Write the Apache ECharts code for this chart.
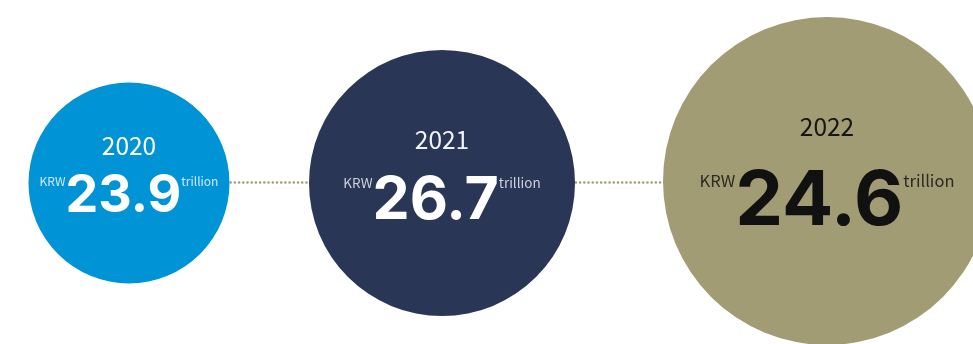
<!DOCTYPE html>
<html>
<head>
<meta charset="utf-8">
<title>Revenue 2020–2022</title>
<script src="https://cdn.jsdelivr.net/npm/echarts@6/dist/echarts.min.js"></script>
<style>
  html, body { margin: 0; padding: 0; background: #ffffff; }
  #chart { width: 973px; height: 344px; }
</style>
</head>
<body>
<div id="chart"></div>
<script>
// Annual figures, KRW trillion
const years = ['2020', '2021', '2022'];
const values = [23.9, 26.7, 24.6];
const unitPrefix = 'KRW';
const unitSuffix = 'trillion';

// Look of each bubble (colour, diameter, type sizes)
const bubbleLook = [
  { fill: '#0093d6', diameter: 201, shift: [12, 1], big: 52, unit: 12, unitDrop: 5, year: 24.5, yearLine: 49, lift: -11,
    main: '#ffffff', sub: '#d3e9f6', yearColor: '#ffffff' },
  { fill: '#2a3656', diameter: 266, shift: [-24, 1], big: 59, unit: 13.5, unitDrop: 5, year: 24.5, yearLine: 64, lift: -14,
    main: '#ffffff', sub: '#cdd1dc', yearColor: '#f2f3f6' },
  { fill: '#a29c74', diameter: 328, shift: [12, -1], big: 76, unit: 16.5, unitDrop: 8, year: 24.5, yearLine: 74, lift: -16,
    main: '#111111', sub: '#2b2a24', yearColor: '#141414' }
];

const SANS = '"Noto Sans CJK KR", "Noto Sans", sans-serif';
const NUM = 'Inter, Lato, sans-serif';

function richFor(look) {
  return {
    yr: { fontFamily: SANS, fontSize: look.year, color: look.yearColor, lineHeight: look.yearLine, align: 'center' },
    num: { fontFamily: NUM, fontWeight: 700, fontSize: look.big, color: look.main, lineHeight: look.big, verticalAlign: 'middle' },
    // small unit words hang level with the cap top of the big figure
    unit: { fontFamily: SANS, fontSize: look.unit, color: look.sub, verticalAlign: 'top', padding: [look.unitDrop, 0, 0, 0] }
  };
}

const seriesData = years.map(function (yr, i) {
  const look = bubbleLook[i];
  return {
    value: [yr, values[i]],
    symbolSize: look.diameter,
    symbolOffset: look.shift,
    itemStyle: { color: look.fill, opacity: 1 },
    label: {
      show: true,
      position: 'inside',
      offset: [0, look.lift],
      formatter: '{yr|' + yr + '}\n{unit|' + unitPrefix + '}{num|' + values[i].toFixed(1) + '}{unit|' + unitSuffix + '}',
      rich: richFor(look)
    }
  };
});

const chart = echarts.init(document.getElementById('chart'), null, { renderer: 'canvas' });
chart.setOption({
  backgroundColor: '#ffffff',
  animation: false,
  singleAxis: {
    type: 'category',
    data: years,
    boundaryGap: false,
    left: 117,
    right: 158,
    top: 182,
    height: 0,
    // dotted connector running behind the bubbles
    axisLine: { show: true, lineStyle: { color: '#a39e78', width: 2.6, type: [0.01, 4.2], cap: 'round' } },
    axisTick: { show: false },
    axisLabel: { show: false },
    splitLine: { show: false }
  },
  series: [{
    type: 'scatter',
    coordinateSystem: 'singleAxis',
    symbol: 'circle',
    data: seriesData,
    emphasis: { disabled: true }
  }]
});
</script>
</body>
</html>
